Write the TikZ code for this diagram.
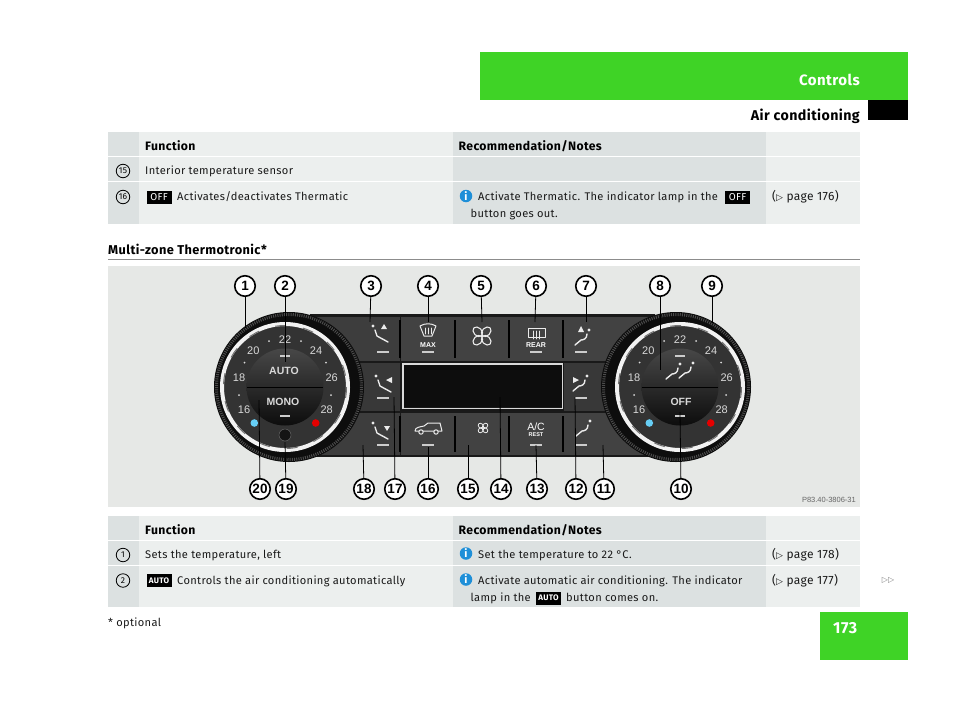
\documentclass[tikz,border=0pt]{standalone}
\usepackage{fontspec}
\setmainfont[LetterSpace=3]{Fira Sans}
\newfontfamily\symfont{DejaVu Sans}
\newfontfamily\labelfont{Liberation Sans}
\definecolor{cellLight}{HTML}{ECEFEE}
\definecolor{cellDark}{HTML}{DCE1E1}
\definecolor{photoBg}{HTML}{E6E8E6}
\definecolor{pageGreen}{HTML}{3FD326}
\definecolor{infoBlue}{HTML}{1E8FD8}
\tikzset{
  txt/.style={anchor=base west, inner sep=0pt, font=\fontsize{11.1}{13}\selectfont, text=black!90},
  head/.style={txt, font=\fontsize{12.2}{13}\selectfont\bfseries, text=black},
  pageref/.style={txt, font=\fontsize{12}{13}\selectfont},
  rownum/.style={draw, circle, line width=0.8pt, minimum size=13.5pt, inner sep=0pt, font=\fontsize{8.5}{8}\selectfont},
  infodot/.style={circle, fill=infoBlue, text=white, minimum size=12.5pt, inner sep=0pt, font=\fontsize{11}{10}\selectfont\bfseries},
  keybox/.style={fill=black, text=white, minimum width=25pt, minimum height=13pt, inner sep=0pt},
  callout/.style={draw, circle, fill=white, line width=1.6pt, minimum size=20.5pt, inner sep=0pt, font=\fontsize{13.5}{12}\selectfont\labelfont\bfseries},
  leader/.style={line width=0.8pt},
  panel/.style={text=white, inner sep=0pt, font=\labelfont},
  dialtxt/.style={panel, text=white!85!black, font=\fontsize{10.5}{10}\selectfont\labelfont\bfseries},
  tickmark/.style={line width=1.2pt, draw=white!80!black},
  icon/.style={line width=1.4pt, draw=white!92!black, line cap=round, line join=round}
}
\begin{document}
\begin{tikzpicture}[x=1pt,y=-1pt]
\useasboundingbox (0,0) rectangle (960,712);
% page furniture
\fill[pageGreen] (480,52) rectangle (908,100);
\fill[black] (868,100) rectangle (908,120);
\fill[pageGreen] (820,612) rectangle (908,660);
\node[anchor=base east, inner sep=0pt, text=white, font=\fontsize{15}{15}\selectfont\bfseries] (controls) at (860,85) {Controls};
\node[anchor=base east, inner sep=0pt, font=\fontsize{14.2}{14}\selectfont\bfseries] (aircon) at (860,120.5) {Air conditioning};
\node[anchor=base west, inner sep=0pt, text=white, font=\fontsize{16}{16}\selectfont\bfseries] (pageno) at (833,633) {173};
\node[txt] (optional) at (108,626) {* optional};
\node[anchor=center, inner sep=0pt, text=black!50, font=\fontsize{8}{8}\selectfont\symfont] (more) at (888,580) {▷▷};
% table cells
\foreach \ya/\yb in {132/156,157/181,182/224,516/540,541/565,566/607} {
  \fill[cellDark] (108,\ya) rectangle (139,\yb);
  \fill[cellLight] (139,\ya) rectangle (453,\yb);
  \fill[cellDark] (453,\ya) rectangle (766,\yb);
  \fill[cellLight] (766,\ya) rectangle (860,\yb);
}
% upper table
\node[head] (fnA) at (145,150) {Function};
\node[head] (recA) at (458.5,150) {Recommendation/Notes};
\node[rownum] (numO) at (123,171) {15};
\node[txt] (sensor) at (145,174.5) {Interior temperature sensor};
\node[rownum] (numP) at (123,197) {16};
\node[keybox, font=\fontsize{10}{9}\selectfont] (offA) at (159,197.5) {OFF};
\node[txt] (thermatic) at (177,200) {Activates/deactivates Thermatic};
\node[infodot] (infoA) at (466,196) {i};
\node[txt] (activate) at (478,200.5) {Activate Thermatic. The indicator lamp in the};
\node[keybox, font=\fontsize{10}{9}\selectfont] (offB) at (737.5,197.5) {OFF};
\node[txt] (goes) at (470.5,217.5) {button goes out.};
\node[pageref] (pageA) at (772,200) {({\symfont\fontsize{9}{7}\selectfont ▷} page 176)};
% heading
\node[anchor=base west, inner sep=0pt, font=\fontsize{12.8}{13}\selectfont\bfseries] (title) at (108,254) {Multi-zone Thermotronic*};
\fill[black!45] (108,258.5) rectangle (860,260);
% lower table
\node[head] (fnB) at (145,534) {Function};
\node[head] (recB) at (458.5,534) {Recommendation/Notes};
\node[rownum] (numA) at (123,555) {1};
\node[txt] (sets) at (145,558) {Sets the temperature, left};
\node[infodot] (infoB) at (466,553.5) {i};
\node[txt] (settemp) at (478,558.5) {Set the temperature to 22 °C.};
\node[pageref] (pageB) at (772,558) {({\symfont\fontsize{9}{7}\selectfont ▷} page 178)};
\node[rownum] (numB) at (123,580.5) {2};
\node[keybox, font=\fontsize{8}{7}\selectfont\bfseries] (autoA) at (159,580.5) {AUTO};
\node[txt] (controlsauto) at (177,584) {Controls the air conditioning automatically};
\node[infodot] (infoC) at (466,579.5) {i};
\node[txt] (activateauto) at (478,584) {Activate automatic air conditioning. The indicator};
\node[txt] (lamp) at (470.5,601) {lamp in the};
\node[keybox, font=\fontsize{8}{7}\selectfont\bfseries] (autoB) at (548.5,598) {AUTO};
\node[txt] (comes) at (566,601) {button comes on.};
\node[pageref] (pageC) at (772,584) {({\symfont\fontsize{9}{7}\selectfont ▷} page 177)};
% photo
\fill[photoBg] (108,266) rectangle (860,507);
\node[anchor=base east, inner sep=0pt, text=black!60, font=\fontsize{7.5}{6}\selectfont\labelfont] (partno) at (856,502) {P83.40-3806-31};
% control panel
\fill[black!90] (310,314) rectangle (655,457);
\fill[black!76] (310,317) rectangle (400,361);
\fill[black!76] (310,413) rectangle (400,455);
\fill[black!74] (401,317) rectangle (655,361);
\fill[black!74] (401,413) rectangle (655,455);
\fill[black!78] (310,363) rectangle (400,411);
\fill[black!78] (564,363) rectangle (655,411);
\foreach \px in {400,455,509,563} {
  \draw[black, line width=1.6pt] (\px,320) -- (\px,358);
  \draw[black, line width=1.6pt] (\px,416) -- (\px,452);
}
% display
\fill[black!95] (403,365) rectangle (562,407);
\draw[white!85!black, line width=1.3pt] (403,409) -- (403,364) -- (562.5,364) -- (562.5,408.5) -- (403,408.5);
% dials
\foreach \cx/\ox in {285/289,680/676} {
  \fill[black!95] (\ox,387) circle (75);
  \draw[black!70, line width=3pt, dash pattern=on 1pt off 1.2pt] (\ox,387) circle (72.5);
  \begin{scope}[shift={(\cx,387)}]
    \fill[black!80] (0,0) circle (64);
    \draw[white!95!black, line width=4pt] (0,0) circle (63);
    \draw[black!55, line width=1pt, dash pattern=on 11pt off 17pt] (0,0) circle (61.5);
    \shade[top color=black!72, bottom color=black!95] (0,0) circle (38.5);
    \draw[black, line width=0.9pt] (-38,0) -- (38,0);
    \foreach \dx/\dy/\val in {0/-47.7/22,-31.7/-36.7/20,31/-36.7/24,-46/-9/18,46.7/-9/26,-41/23/16,41.7/23/28}
      \node[panel, text=white!85!black, font=\fontsize{11}{9}\selectfont\labelfont] at (\dx,\dy) {\val};
    \foreach \dx/\dy in {-16/-46,16/-46,-40.5/-24.5,41/-24.5,-46/8,46/8}
      \fill[white!85!black] (\dx,\dy) circle (1);
    \fill[cyan!60!white] (-30.7,36) circle (3.8);
    \fill[red!90!black] (30.7,36) circle (3.8);
    \draw[tickmark] (-5,-31) -- (5,-31);
    \draw[tickmark] (-5,29) -- (5,29);
  \end{scope}
}
\fill[black!92] (285,435) circle (6);
\draw[black!60, line width=0.5pt] (285,435) circle (6);
\node[dialtxt] (auto) at (284,371) {AUTO};
\node[dialtxt] (mono) at (283,402) {MONO};
\node[dialtxt] (off) at (681,402) {OFF};
% button underlines
\foreach \lx/\ly in {383/352,383/398,383/445,428/352,536/352,428/445,536/445,581/352,581/398,581/445}
  \draw[tickmark] (\lx-6,\ly) -- (\lx+6,\ly);
% vent buttons
\foreach \vx/\vy in {380/333,383/383,380/430} {
  \draw[icon] (\vx-5,\vy-3) -- (\vx-3,\vy+3) -- (\vx+8,\vy+9);
  \fill[white!92!black] (\vx-7,\vy-7) circle (1.6);
}
\foreach \vx/\vy in {582/337,580/383,583/428,673/371,686/370} {
  \draw[icon] (\vx+5,\vy-3) .. controls (\vx+5,\vy+2) and (\vx+1,\vy+3) .. (\vx-1,\vy+3) -- (\vx-7,\vy+8);
  \fill[white!92!black] (\vx+7,\vy-7) circle (1.6);
}
\fill[white!92!black] (381,329) -- (387,329) -- (384,324) -- cycle;
\fill[white!92!black] (392,377) -- (386,380) -- (392,383) -- cycle;
\fill[white!92!black] (384,426) -- (390,426) -- (387,431) -- cycle;
\fill[white!92!black] (578,332) -- (584,332) -- (581,326) -- cycle;
\fill[white!92!black] (573,377) -- (579,380) -- (573,383) -- cycle;
% defrost buttons
\draw[icon, line width=1pt] (420,326) .. controls (425,323) and (431,323) .. (436,326) -- (432,336) -- (424,336) -- cycle;
\foreach \hx in {425,428,431} \draw[icon, line width=0.7pt] (\hx,328) -- (\hx,334);
\node[panel, font=\fontsize{7}{6}\selectfont\labelfont\bfseries] (maxlabel) at (428,345) {MAX};
\draw[icon, line width=1pt] (528,328) -- (545,328) -- (545,337) -- (528,337) -- cycle;
\foreach \hx in {533,536,539} \draw[icon, line width=0.7pt] (\hx,331) -- (\hx,339);
\node[panel, font=\fontsize{7}{6}\selectfont\labelfont\bfseries] (rearlabel) at (536,345) {REAR};
% fans
\foreach \fa in {45,135,225,315} {
  \draw[icon, line width=1.1pt, rotate around={\fa:(482,336)}] (488,336) ellipse (5.5 and 4);
  \draw[icon, line width=0.8pt, rotate around={\fa:(483,428)}] (486,428) ellipse (3 and 2.3);
}
% recirculation
\draw[icon, line width=1pt] (415,431) .. controls (415,427) and (420,427) .. (424,426) -- (428,423) -- (440,423) -- (442,431) -- cycle;
\draw[icon, line width=1pt, fill=black!74] (421,432) circle (2.2);
\draw[icon, line width=1pt, fill=black!74] (436,432) circle (2.2);
% climate button
\node[panel, font=\fontsize{10.5}{9}\selectfont\labelfont] (aclabel) at (536,427) {A/C};
\node[panel, font=\fontsize{5.5}{5}\selectfont\labelfont\bfseries] (restlabel) at (536,435) {REST};
% callouts
\foreach \idx/\nx/\ny/\ex/\ey in {1/245/286/245/328, 2/285/286/285/362, 3/371/286/370/322, 4/428/286/428/322,
  5/481/286/482/322, 6/536/286/535/322, 7/586/286/586/322, 8/660/286/660/370, 9/712/286/712/323,
  10/681/489/680/412, 11/604/489/603/445, 12/576/489/575/397, 13/537/489/536/445, 14/501/489/500/397,
  15/468/489/468/445, 16/428/489/428/447, 17/395/489/394/397, 18/364/489/363/445, 19/286/489/285/442,
  20/260/489/259/400} {
  \coordinate (end\idx) at (\ex,\ey);
  \node[callout] (num\idx) at (\nx,\ny) {\idx};
  \draw[leader] (num\idx) -- (end\idx);
}
\end{tikzpicture}
\end{document}
